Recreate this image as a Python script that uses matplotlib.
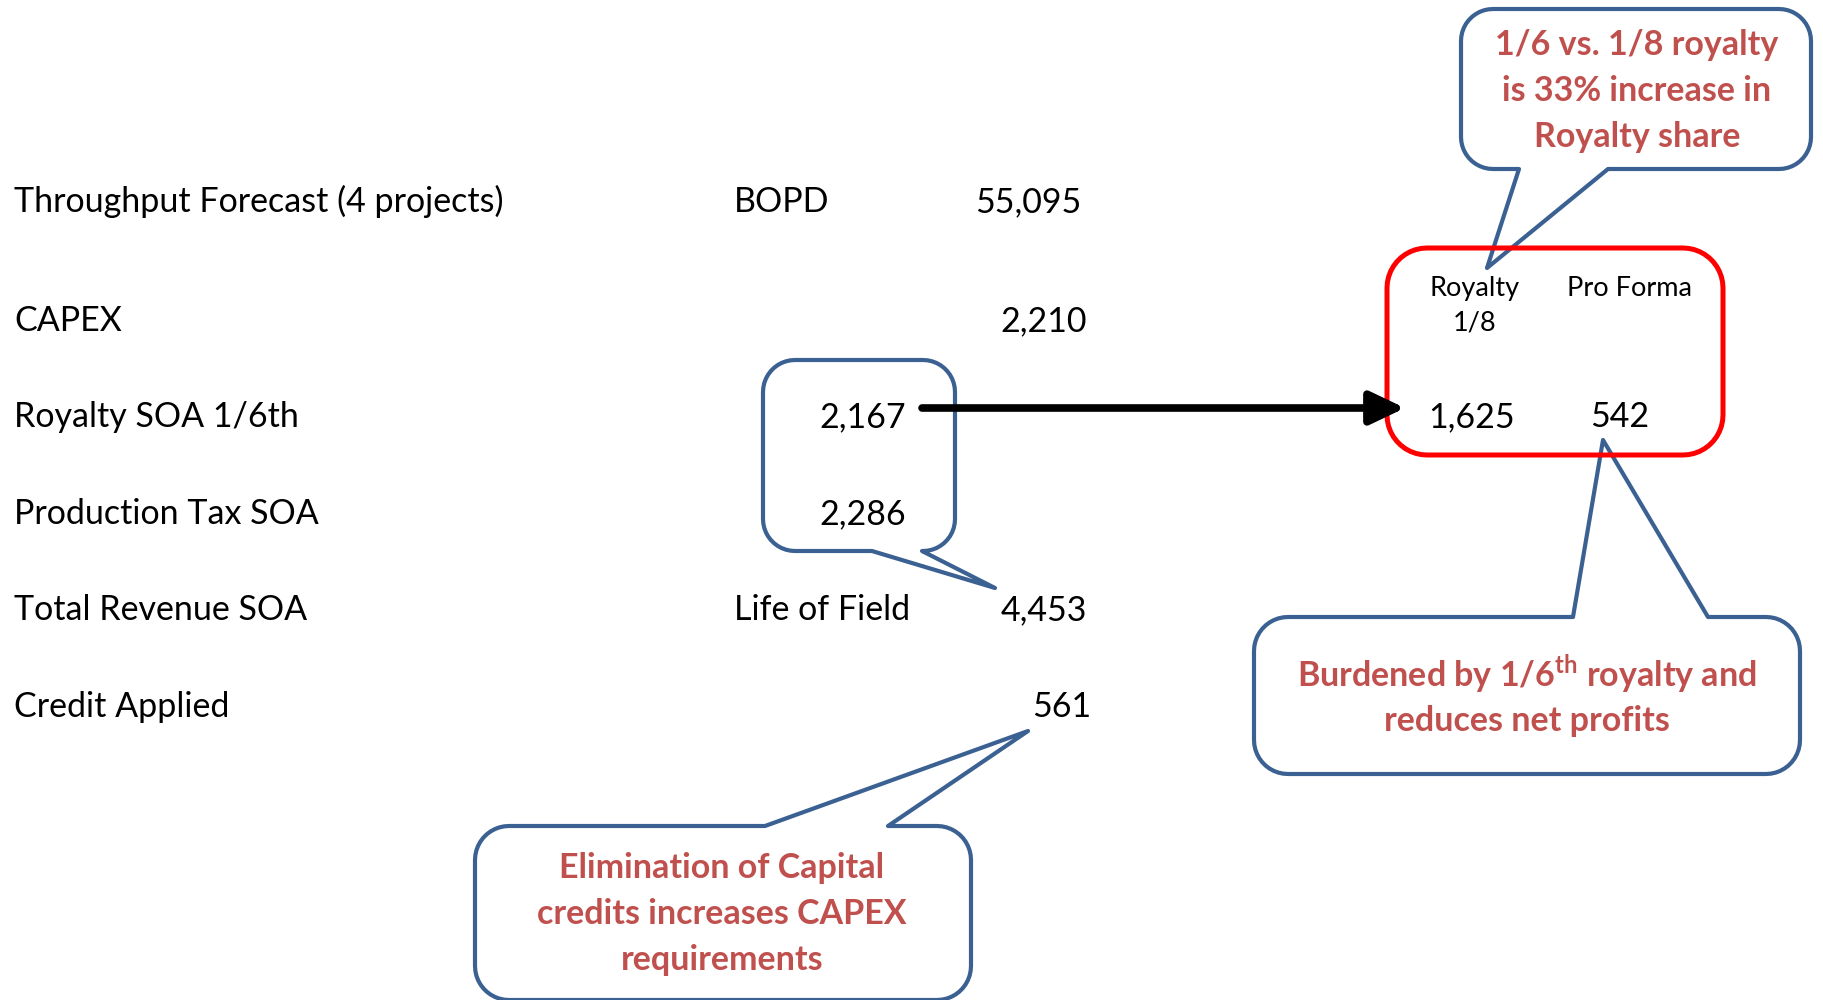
import numpy as np
import matplotlib
matplotlib.use('Agg')
import matplotlib.pyplot as plt
from matplotlib.patches import Polygon

plt.rcParams['font.family'] = ['Lato', 'DejaVu Sans']
plt.rcParams['mathtext.fontset'] = 'custom'
plt.rcParams['mathtext.rm'] = 'Lato'
plt.rcParams['mathtext.bf'] = 'Lato:bold'

# table data
row_labels = ["Throughput Forecast (4 projects)", "CAPEX", "Royalty SOA 1/6th",
              "Production Tax SOA", "Total Revenue SOA", "Credit Applied"]
row_units = ["BOPD", "", "", "", "Life of Field", ""]
row_totals = [55095, 2210, None, None, 4453, 561]
soa_values = [None, None, 2167, 2286, None, None]

split_headers = ["Royalty\n1/8", "Pro Forma"]
split_values = [1625, 542]

note_top = "1/6 vs. 1/8 royalty\nis 33% increase in\nRoyalty share"
note_right = "Burdened by 1/6$^{\\mathbf{th}}$ royalty and\nreduces net profits"
note_bottom = "Elimination of Capital\ncredits increases CAPEX\nrequirements"

# layout (pixels, y down)
row_base = [212, 331, 427, 524, 620, 717]
total_x = [1081, 1087, 1087, 1087, 1087, 1091]
blue = '#3B6192'
red_txt = '#C0504D'
FS = 24.5


def callout(x0, y0, x1, y1, r, side, bl, br, tip):
    def arc(cx, cy, a0, a1):
        t = np.radians(np.linspace(a0, a1, 12))
        return list(zip(cx + r * np.cos(t), cy + r * np.sin(t)))
    pts = []
    pts += arc(x0 + r, y0 + r, 180, 270)
    if side == 'top':
        pts += [(bl, y0), tip, (br, y0)]
    pts += arc(x1 - r, y0 + r, 270, 360)
    pts += arc(x1 - r, y1 - r, 0, 90)
    if side == 'bottom':
        pts += [(br, y1), tip, (bl, y1)]
    pts += arc(x0 + r, y1 - r, 90, 180)
    return Polygon(pts, closed=True, facecolor='white', edgecolor=blue,
                   lw=3, joinstyle='round', zorder=2)


fig = plt.figure(figsize=(18.24, 10), dpi=100)
ax = fig.add_axes([0, 0, 1, 1])
ax.set_xlim(0, 1824)
ax.set_ylim(1000, 0)
ax.axis('off')

# callout bubbles
ax.add_patch(callout(763, 360, 955, 551, 32, 'bottom', 872, 922, (995, 588)))
ax.add_patch(callout(1461, 9, 1811, 169, 32, 'bottom', 1519, 1608, (1487, 268)))
ax.add_patch(callout(1254, 617, 1800, 774, 34, 'top', 1573, 1708, (1603, 440)))
ax.add_patch(callout(475, 826, 971, 1000, 34, 'top', 765, 888, (1028, 731)))

# red split box
red_box = Polygon(callout(1387, 248, 1723, 455, 40, None, 0, 0, (0, 0)).get_xy(),
                  closed=True, facecolor='none', edgecolor='#FF0000', lw=3.6, zorder=3)
ax.add_patch(red_box)

# table rows
for i, lab in enumerate(row_labels):
    y = row_base[i]
    ax.text(14, y, lab, fontsize=FS, va='baseline', ha='left', zorder=4)
    if row_units[i]:
        ax.text(734, y, row_units[i], fontsize=FS, va='baseline', ha='left', zorder=4)
    if row_totals[i] is not None:
        ax.text(total_x[i], y, f"{row_totals[i]:,}", fontsize=FS, va='baseline', ha='right', zorder=4)
    if soa_values[i] is not None:
        ax.text(906, y, f"{soa_values[i]:,}", fontsize=FS, va='baseline', ha='right', zorder=4)

# arrow from royalty value to the split box
ax.annotate("", xy=(1405, 408), xytext=(922, 408),
            arrowprops=dict(arrowstyle='-|>,head_length=1.05,head_width=0.5',
                            mutation_scale=20, lw=5.5, color='black',
                            shrinkA=0, shrinkB=0), zorder=5)

# split box contents
head_x = [1475, 1630]
ax.text(head_x[0], 276, split_headers[0], fontsize=19.5, ha='center', va='top',
        linespacing=1.45, zorder=4)
ax.text(head_x[1], 276, split_headers[1], fontsize=19.5, ha='center', va='top', zorder=4)
val_x = [1472, 1620]
for x, v in zip(val_x, split_values):
    ax.text(x, row_base[2], f"{v:,}", fontsize=FS, ha='center', va='baseline', zorder=4)

# notes
ax.text(1637, 91, note_top, fontsize=FS, fontweight='bold', color=red_txt,
        ha='center', va='center', linespacing=1.53, zorder=4)
ax.text(1527, 695, note_right, fontsize=FS, fontweight='bold', color=red_txt,
        ha='center', va='center', linespacing=1.38, zorder=4)
ax.text(722, 914, note_bottom, fontsize=FS, fontweight='bold', color=red_txt,
        ha='center', va='center', linespacing=1.53, zorder=4)

fig.savefig('out.png', dpi=100)
